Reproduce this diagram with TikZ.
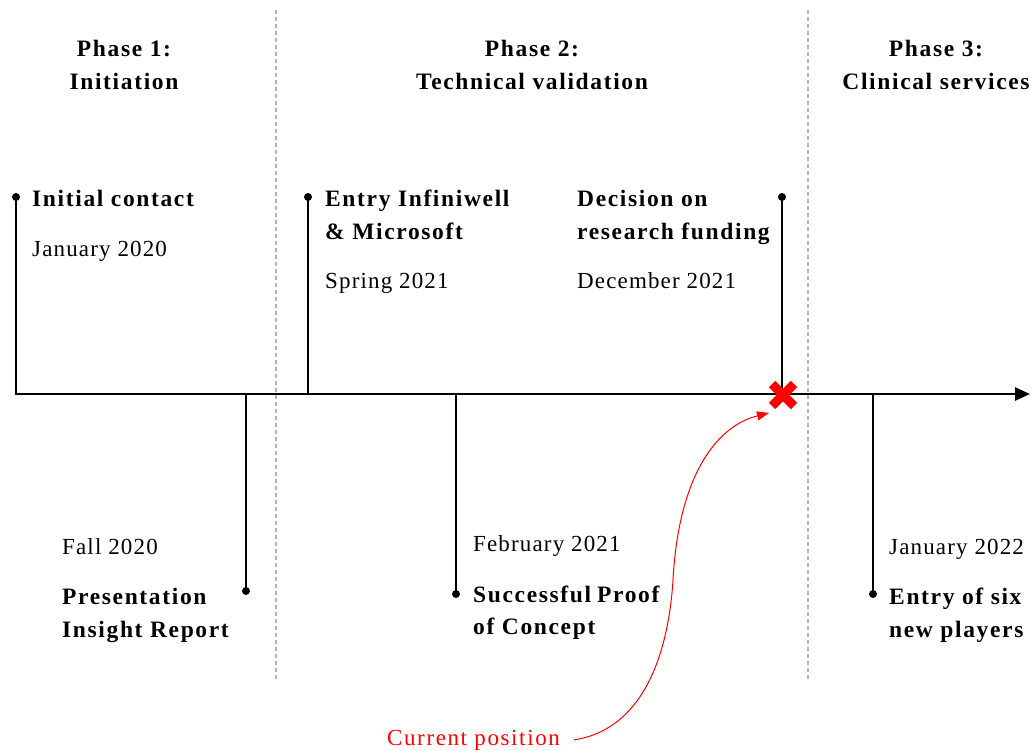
\documentclass[tikz,border=0pt]{standalone}
\usepackage{fontspec}
\setmainfont[LetterSpace=7]{Liberation Serif}
\usetikzlibrary{arrows.meta,calc}
\begin{document}
\begin{tikzpicture}[x=1pt,y=-1pt,
  title/.style={font=\fontsize{23.5}{30}\selectfont\bfseries, anchor=base, inner sep=0pt},
  head/.style={font=\fontsize{23.5}{30}\selectfont\bfseries, anchor=base west, inner sep=0pt},
  date/.style={font=\fontsize{23}{30}\selectfont\addfontfeatures{LetterSpace=5}, anchor=base west, inner sep=0pt},
  stem/.style={line width=1.8pt, black},
  dot/.style={circle, fill=black, inner sep=0pt, minimum size=8pt},
  divider/.style={gray!60, line width=1.2pt, dash pattern=on 4pt off 3pt}]
\useasboundingbox (0,0) rectangle (1031,751);

% phase dividers
\draw[divider] (276,10) -- (276,680);
\draw[divider] (808,10) -- (808,680);

% phase titles
\node[title] (p1a) at (124,57) {Phase 1:};
\node[title] (p1b) at (124,90) {Initiation};
\node[title] (p2a) at (532,57) {Phase 2:};
\node[title] (p2b) at (532,90) {Technical validation};
\node[title] (p3a) at (936,57) {Phase 3:};
\node[title] (p3b) at (936,90) {Clinical services};

% time axis
\coordinate (axs) at (15,394);
\coordinate (axe) at (1030,394);
\draw[line width=2.6pt, -{Triangle[length=15pt,width=13pt]}] (axs) -- (axe);

% events above the axis
\coordinate (a1) at (16,394);  \node[dot] (d1) at (16,197) {};
\coordinate (a2) at (308,394); \node[dot] (d2) at (308,197) {};
\coordinate (a3) at (782,394); \node[dot] (d3) at (782,197) {};
\draw[stem] (d1.center) -- (a1);
\draw[stem] (d2.center) -- (a2);
\draw[stem] (d3.center) -- (a3);

\node[head] (e1a) at (32,207) {Initial contact};
\node[date] (e1b) at (32,257) {January 2020};
\node[head] (e2a) at (325,207) {Entry Infiniwell};
\node[head] (e2b) at (325,240) {\& Microsoft};
\node[date] (e2c) at (325,289) {Spring 2021};
\node[head] (e3a) at (577,207) {Decision on};
\node[head] (e3b) at (577,240) {research funding};
\node[date] (e3c) at (577,289) {December 2021};

% events below the axis
\coordinate (b1) at (246,394); \node[dot] (f1) at (246,591) {};
\coordinate (b2) at (456,394); \node[dot] (f2) at (456,594) {};
\coordinate (b3) at (873,394); \node[dot] (f3) at (873,594) {};
\draw[stem] (b1) -- (f1.center);
\draw[stem] (b2) -- (f2.center);
\draw[stem] (b3) -- (f3.center);

\node[date] (g1a) at (62,554) {Fall 2020};
\node[head] (g1b) at (62,604) {Presentation};
\node[head] (g1c) at (62,637) {Insight Report};
\node[date] (g2a) at (473,551) {February 2021};
\node[head] (g2b) at (473,602) {Successful\hspace{6pt}Proof};
\node[head] (g2c) at (473,634) {of Concept};
\node[date] (g3a) at (889,554) {January 2022};
\node[head] (g3b) at (889,604) {Entry of six};
\node[head] (g3c) at (889,637) {new players};

% current position marker
\coordinate (now) at (783,395);
\draw[red, line width=9pt] ($(now)+(-11,-11)$) -- ($(now)+(11,11)$);
\draw[red, line width=9pt] ($(now)+(-11,11)$) -- ($(now)+(11,-11)$);

\node[font=\fontsize{23}{30}\selectfont, text=red, anchor=base west, inner sep=0pt] (cur) at (387,745) {Current position};
\coordinate (tip) at (769,413);
\draw[red, line width=1pt, -{Triangle[length=12pt,width=9pt]}]
  ([xshift=14pt]cur.east) .. controls (640,730) and (668,660) .. (673,580)
  .. controls (679,470) and (720,425) .. (tip);
\end{tikzpicture}
\end{document}
